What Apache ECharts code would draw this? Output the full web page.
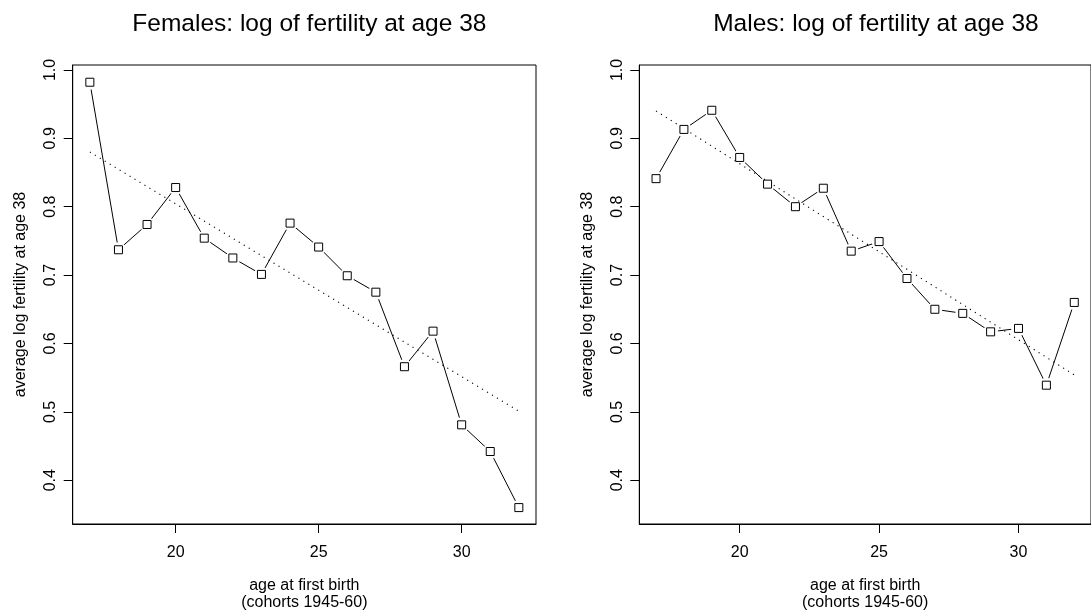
<!DOCTYPE html>
<html>
<head>
<meta charset="utf-8">
<script src="https://cdn.jsdelivr.net/npm/echarts@6/dist/echarts.min.js"></script>
<style>
html,body{margin:0;padding:0;background:#fff;}
#chart{width:1091px;height:616px;}
</style>
</head>
<body>
<div id="chart"></div>
<script>
// ---- data ----
var ages = [17,18,19,20,21,22,23,24,25,26,27,28,29,30,31,32];
var femaleValues = [0.982,0.737,0.774,0.828,0.754,0.725,0.701,0.776,0.741,0.699,0.675,0.566,0.618,0.481,0.442,0.360];
var maleValues   = [0.841,0.913,0.941,0.872,0.833,0.800,0.827,0.735,0.749,0.695,0.650,0.644,0.617,0.622,0.539,0.660];
var trendAges = [17,32];
var femaleTrend = [0.880,0.501];
var maleTrend   = [0.940,0.554];
var xTicks = [20,25,30];
var yTicks = [0.4,0.5,0.6,0.7,0.8,0.9,1.0];
var titles = ['Females: log of fertility at age 38','Males: log of fertility at age 38'];
var xName = 'age at first birth\n(cohorts 1945-60)';
var yName = 'average log fertility at age 38';

function pairs(xs, ys){ return xs.map(function(x,i){ return [x, ys[i]]; }); }

var FONT = '"Liberation Sans", Arial, Helvetica, sans-serif';
var gridLefts = [72.7, 639.3];
var gridW = 463.3, gridTop = 65, gridH = 465;

var grids = [], xAxes = [], yAxes = [], series = [], title = [];
[femaleValues, maleValues].forEach(function(vals, k){
  grids.push({left: gridLefts[k], top: gridTop, width: gridW, height: gridH,
    show: true, borderColor: '#000', borderWidth: 1, backgroundColor: 'transparent', containLabel: false});
  title.push({text: titles[k], left: gridLefts[k] + gridW/2, top: 7, textAlign: 'center',
    textStyle: {fontFamily: FONT, fontWeight: 'normal', fontSize: 24.5, color: '#000'}});
  xAxes.push({type: 'value', gridIndex: k, min: 16.4, max: 32.6,
    splitLine: {show: false},
    axisLine: {show: true, onZero: false, lineStyle: {color: '#000', width: 1}},
    axisTick: {show: true, inside: false, length: 9, customValues: xTicks, lineStyle: {color: '#000', width: 1}},
    axisLabel: {show: true, customValues: xTicks, margin: 21, fontFamily: FONT, fontSize: 16, color: '#000',
      formatter: function(v){ return String(v); }},
    name: xName, nameLocation: 'middle', nameGap: 53,
    nameTextStyle: {fontFamily: FONT, fontSize: 16, color: '#000', lineHeight: 17}
  });
  yAxes.push({type: 'value', gridIndex: k, min: 0.336, max: 1.0072,
    splitLine: {show: false},
    axisLine: {show: true, onZero: false, lineStyle: {color: '#000', width: 1}},
    axisTick: {show: true, inside: false, length: 9, customValues: yTicks, lineStyle: {color: '#000', width: 1}},
    axisLabel: {show: true, customValues: yTicks, rotate: 90, margin: 14, fontFamily: FONT, fontSize: 16, color: '#000',
      formatter: function(v){ return v.toFixed(1); }},
    name: yName, nameLocation: 'middle', nameRotate: 90, nameGap: 44,
    nameTextStyle: {fontFamily: FONT, fontSize: 16, color: '#000'}
  });
  var d = pairs(ages, vals);
  series.push({type: 'line', xAxisIndex: k, yAxisIndex: k, data: d, showSymbol: false, symbol: 'none',
    lineStyle: {color: '#000', width: 1}, animation: false, z: 2, silent: true});
  series.push({type: 'scatter', xAxisIndex: k, yAxisIndex: k, data: d, symbol: 'circle', symbolSize: 15,
    itemStyle: {color: '#fff', borderWidth: 0, opacity: 1}, animation: false, z: 3, silent: true});
  series.push({type: 'line', xAxisIndex: k, yAxisIndex: k, data: pairs(trendAges, k === 0 ? femaleTrend : maleTrend),
    showSymbol: false, symbol: 'none', lineStyle: {color: '#000', width: 1.1, type: [1.2, 4.6]}, animation: false, z: 4, silent: true});
  series.push({type: 'scatter', xAxisIndex: k, yAxisIndex: k, data: d, symbol: 'rect', symbolSize: 8,
    itemStyle: {color: '#fff', borderColor: '#000', borderWidth: 1, opacity: 1}, animation: false, z: 5, silent: true});
});

var chart = echarts.init(document.getElementById('chart'), null, {renderer: 'canvas'});
chart.setOption({
  backgroundColor: '#fff',
  animation: false,
  title: title,
  grid: grids,
  xAxis: xAxes,
  yAxis: yAxes,
  series: series
});
</script>
</body>
</html>
